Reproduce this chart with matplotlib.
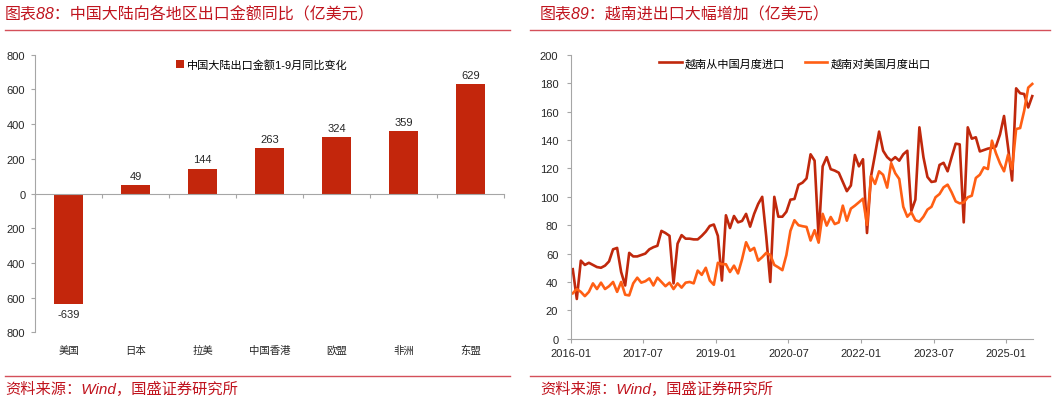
import numpy as np
import matplotlib
matplotlib.use("Agg")
import matplotlib.pyplot as plt
from matplotlib.lines import Line2D

plt.rcParams['font.family'] = ['Liberation Sans', 'Noto Sans CJK SC']

# 左图：中国大陆对各地区出口 1-9月同比变化（亿美元）
regions = ['美国', '日本', '拉美', '中国香港', '欧盟', '非洲', '东盟']
export_chg = [-639, 49, 144, 263, 324, 359, 629]

# 右图：越南月度进出口（亿美元），2016-01 起
vn_imp_china = [
    49, 28, 55, 52, 53.5, 52, 50.5, 50, 51.5, 54.5, 63, 64,
    47, 37.5, 60.5, 58, 58, 59, 60, 63, 64.5, 65.5, 76, 74.5,
    72.5, 39, 67, 73, 70.5, 70.5, 70, 70, 72.5, 75.5, 79.5, 80.5,
    72.5, 41, 87, 78, 86.5, 82, 83, 88, 79, 88, 95, 100,
    72, 40, 100, 86, 86, 89.5, 98, 98.5, 108.5, 110, 113, 130,
    125.5, 71, 121.5, 128, 119.5, 118.5, 117, 110.5, 104, 108, 129.5, 121.5,
    126.5, 74.5, 114.5, 130, 146, 132.5, 128, 125.5, 128, 125.5, 130, 132.5,
    90, 98, 149, 128, 114, 110.5, 111, 122.5, 124, 118, 128, 137.5,
    137, 82, 149, 141, 142, 132, 133, 134, 134.5, 135.5, 144, 157,
    135, 111.5, 176.5, 173, 172.5, 163, 171,
]
vn_exp_us = [
    32, 35, 33, 30, 33, 39, 35, 39.5, 35, 37, 40, 33,
    40, 31, 30.5, 39, 43, 39.5, 40.5, 42.5, 37.5, 43, 40, 37,
    39.5, 35, 39, 36, 39.5, 40, 39, 48, 45, 50, 41, 38,
    53.5, 52.5, 52.5, 47, 51.5, 46, 56, 68, 62, 64, 55, 57.5,
    60.5, 59, 52, 50.3, 48.3, 59, 76, 83.5, 80, 79.3, 78.8, 69.2,
    76.5, 67.7, 88, 79.7, 85.8, 80.8, 82, 93.8, 83.2, 91.7, 93.8, 96.2,
    98.7, 80.3, 114.7, 109.1, 118, 115.5, 106.5, 123.8, 116.7, 112.6, 93, 86,
    89, 83.5, 82.5, 86, 91, 93, 99.7, 102, 106.7, 108.6, 103.2, 96.8,
    95.4, 96, 99.7, 100.8, 113.3, 115.6, 120.8, 119.6, 139.6, 130.7, 123.6, 118,
    129.7, 119.6, 147.8, 148.5, 160.7, 177, 179.6,
]
date_ticks = ['2016-01', '2017-07', '2019-01', '2020-07', '2022-01', '2023-07', '2025-01']

BAR = '#C3260C'
DARK = '#C0280C'
ORANGE = '#FF5F14'
AXIS = '#A6A6A6'
TXT = '#262626'
TITLE = '#C0141E'
RULE = '#D4505A'

fig = plt.figure(figsize=(10.55, 4.02), dpi=100)

# ---- 左图 ----
ax1 = fig.add_axes([0.0332, 0.1709, 0.4445, 0.6905])
x = np.arange(len(regions))
ax1.bar(x, export_chg, width=0.42, color=BAR, label='中国大陆出口金额1-9月同比变化', zorder=2)
for xi, v in zip(x, export_chg):
    if v >= 0:
        ax1.annotate(str(v), (xi, v), xytext=(0, 3), textcoords='offset points',
                     ha='center', va='bottom', fontsize=8, color=TXT)
    else:
        ax1.annotate(str(v), (xi, v), xytext=(0, -3), textcoords='offset points',
                     ha='center', va='top', fontsize=8, color=TXT)
ax1.set_xlim(-0.5, len(regions) - 0.5)
ax1.set_ylim(-800, 800)
yt = list(range(-800, 801, 200))
ax1.set_yticks(yt)
ax1.set_yticklabels([str(abs(t)) for t in yt])
for s in ['top', 'right']:
    ax1.spines[s].set_visible(False)
ax1.spines['left'].set_color(AXIS)
ax1.spines['bottom'].set_color(AXIS)
ax1.spines['bottom'].set_position(('data', 0))
ax1.set_xticks(np.arange(-0.5, len(regions), 1))
ax1.tick_params(axis='x', length=3, color=AXIS, labelbottom=False)
ax1.tick_params(axis='y', length=3, color=AXIS, labelsize=8, labelcolor=TXT, pad=4)
cat = ax1.secondary_xaxis('bottom')
cat.set_xticks(x, regions)
cat.tick_params(length=0, pad=9, labelsize=7.5, labelcolor=TXT)
cat.spines['bottom'].set_visible(False)
ax1.legend(loc='center left', bbox_to_anchor=(0.28, 0.966), frameon=False, fontsize=8,
           handlelength=0.7, handleheight=0.7, handletextpad=0.3)

# ---- 右图 ----
ax2 = fig.add_axes([0.541, 0.155, 0.4382, 0.7057])
t = np.arange(len(vn_imp_china))
ax2.plot(t, vn_imp_china, color=DARK, lw=1.9, label='越南从中国月度进口', clip_on=False)
ax2.plot(t, vn_exp_us, color=ORANGE, lw=1.9, label='越南对美国月度出口', clip_on=False)
ax2.set_xlim(-0.5, 114.2)
ax2.set_ylim(0, 200)
ax2.set_yticks(range(0, 201, 20))
ax2.set_xticks(np.arange(-0.5, 114, 18), date_ticks)
for s in ['top', 'right']:
    ax2.spines[s].set_visible(False)
ax2.spines['left'].set_color(AXIS)
ax2.spines['bottom'].set_color(AXIS)
ax2.tick_params(axis='both', length=3, color=AXIS, labelsize=8, labelcolor=TXT)
ax2.tick_params(axis='y', pad=6)
ax2.tick_params(axis='x', pad=4)
ax2.legend(loc='center left', bbox_to_anchor=(0.17, 0.972), ncol=2, frameon=False, fontsize=8,
           handlelength=2.0, handletextpad=0.3, columnspacing=1.8)

# ---- 标题、来源 ----
fig.text(5 / 1055, 1 - 15 / 402, '图表88：中国大陆向各地区出口金额同比（亿美元）', color=TITLE,
         fontsize=11.5, fontstyle='italic', va='center', ha='left')
fig.text(540 / 1055, 1 - 15 / 402, '图表89：越南进出口大幅增加（亿美元）', color=TITLE,
         fontsize=11.5, fontstyle='italic', va='center', ha='left')
for x0, x1 in [(5, 510), (530, 1050)]:
    for yy in (31, 377):
        fig.add_artist(Line2D([x0 / 1055, x1 / 1055], [1 - yy / 402, 1 - yy / 402],
                              color=RULE, lw=1))
fig.text(5 / 1055, 1 - 389 / 402, '资料来源：Wind，国盛证券研究所', color=TITLE,
         fontsize=11, fontstyle='italic', va='center', ha='left')
fig.text(540 / 1055, 1 - 389 / 402, '资料来源：Wind，国盛证券研究所', color=TITLE,
         fontsize=11, fontstyle='italic', va='center', ha='left')

fig.savefig('out.png', dpi=100)
